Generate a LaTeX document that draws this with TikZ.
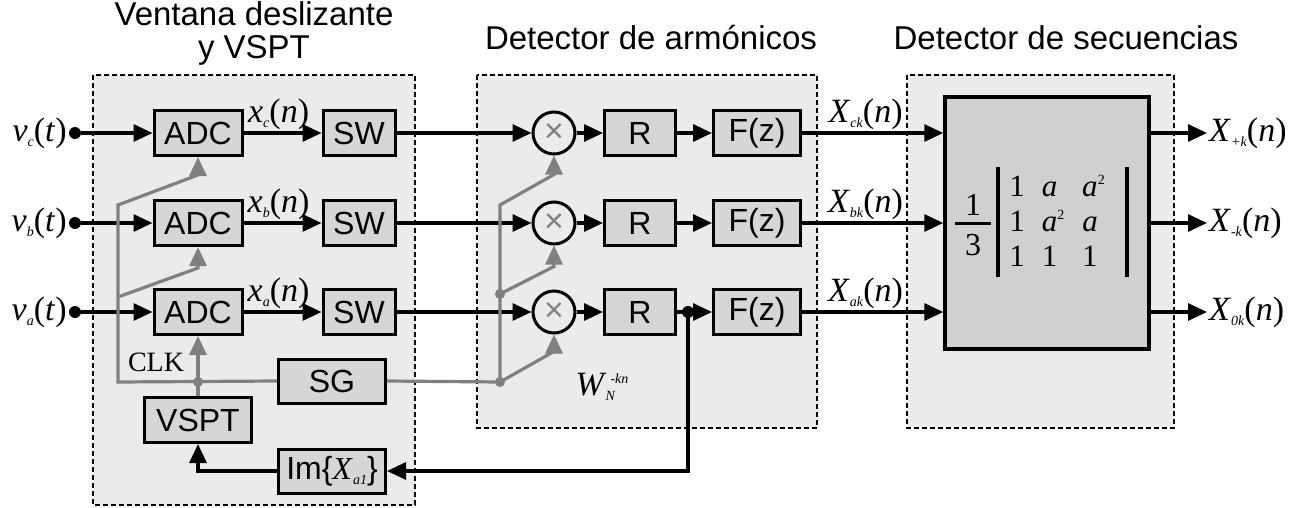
\documentclass[tikz,border=0pt]{standalone}
\usepackage{fontspec}
\setmainfont{Liberation Serif}
\setsansfont{Liberation Sans}
\usetikzlibrary{arrows.meta,calc}

\definecolor{panelgray}{RGB}{236,235,234}
\definecolor{boxgray}{RGB}{214,214,214}
\definecolor{matgray}{RGB}{208,208,208}
\definecolor{wiregray}{RGB}{128,128,128}

% small italic index below / above the line
\newcommand{\lowidx}[1]{\raisebox{-5pt}{\fontsize{14}{14}\selectfont\textit{#1}}}
\newcommand{\highidx}[1]{\raisebox{12pt}{\fontsize{14}{14}\selectfont #1}}

\begin{document}
\begin{tikzpicture}[x=1pt,y=-1pt,
    panel/.style={draw,dash pattern=on 5pt off 3pt,line width=2pt,fill=panelgray},
    blk/.style={draw,line width=3pt,fill=boxgray,inner sep=1pt,minimum height=45pt,
      font=\sffamily\fontsize{32}{32}\selectfont},
    mult/.style={draw,circle,line width=3pt,fill=panelgray,minimum size=42pt,inner sep=0pt},
    wire/.style={line width=3.2pt,-{Triangle[length=19pt,width=17pt]}},
    gwire/.style={wire,draw=wiregray},
    gline/.style={line width=3.2pt,draw=wiregray},
    dot/.style={circle,fill,inner sep=0pt,minimum size=12pt},
    gdot/.style={circle,fill=wiregray,inner sep=0pt,minimum size=10pt},
    lbl/.style={font=\fontsize{34}{34}\selectfont,inner sep=2pt},
    ttl/.style={font=\sffamily\fontsize{33}{33}\selectfont,align=center}]
  \fill[white] (0,0) rectangle (1306,508);
  \useasboundingbox (0,0) rectangle (1306,508);

  % panels
  \draw[panel] (93,75) rectangle (415,505);
  \draw[panel] (477,75) rectangle (817,428);
  \draw[panel] (907,75) rectangle (1174,428);
  \node[ttl] (t1) at (254,33) {Ventana deslizante\\y VSPT};
  \node[ttl] (t2) at (651,38) {Detector de armónicos};
  \node[ttl] (t3) at (1066,38) {Detector de secuencias};

  % sequence matrix
  \node[draw,line width=3.5pt,fill=matgray,minimum width=204pt,minimum height=252pt] (mat) at (1047,223) {};
  \node[font=\fontsize{32}{32}\selectfont] (num) at ($(mat.center)+(-74,-18)$) {1};
  \node[font=\fontsize{32}{32}\selectfont] (den) at ($(mat.center)+(-74,22)$) {3};
  \draw[line width=3pt] ($(mat.center)+(-92,0)$) -- ++(36,0);
  \draw[line width=3.5pt] ($(mat.center)+(-49,-56)$) -- ++(0,110);
  \draw[line width=3.5pt] ($(mat.center)+(80,-56)$) -- ++(0,110);
  \node[font=\fontsize{31}{35}\selectfont,inner sep=0pt] (coef) at ($(mat.center)+(10,1)$) {%
    \begin{tabular}{@{}l@{\hspace{17pt}}l@{\hspace{18pt}}l@{}}
      1 & \textit{a} & \textit{a}\highidx{2}\\
      1 & \textit{a}\highidx{2} & \textit{a}\\
      1 & 1 & 1
    \end{tabular}};

  % three phases
  \foreach \r/\y/\o in {c/133/+k,b/223/-k,a/312/0k} {
    \node[dot] (in\r) at (75,\y) {};
    \node[lbl,anchor=east] (v\r) at (in\r.west) {\textit{v}\lowidx{\r}(\textit{t})};
    \node[blk,minimum width=88pt] (adc\r) at (198,\y) {ADC};
    \node[blk,minimum width=72pt] (sw\r) at (359,\y) {SW};
    \node[mult] (mul\r) at (554,\y) {\textcolor{wiregray}{\sffamily\fontsize{34}{34}\selectfont ×}};
    \node[blk,minimum width=71pt] (r\r) at (640,\y) {R};
    \node[blk,minimum width=87pt] (f\r) at (757,\y) {F(z)};
    \coordinate (out\r) at (1207,\y);
    \node[lbl,anchor=west] (y\r) at (out\r) {\textit{X}\lowidx{\o}(\textit{n})};
    \draw[wire] (in\r) -- (adc\r);
    \draw[wire] (adc\r) -- node[lbl,above,pos=0.45] {\textit{x}\lowidx{\r}(\textit{n})} (sw\r);
    \draw[wire] (sw\r) -- (mul\r);
    \draw[wire] (mul\r) -- (r\r);
    \draw[wire] (r\r) -- (f\r);
    \draw[wire] (f\r) -- node[lbl,above,pos=0.45] {\textit{X}\lowidx{\r k}(\textit{n})} (mat.west |- f\r);
    \draw[wire] (mat.east |- f\r) -- (out\r);
  }

  % clock, signal generator and feedback
  \node[blk,minimum width=107pt,minimum height=44pt] (sg) at (332,381) {SG};
  \node[blk,minimum width=107pt] (vspt) at (198,420) {VSPT};
  \node[blk,minimum width=107pt,minimum height=44pt] (im) at (332,471)
    {Im\{{\rmfamily\textit{X}\lowidx{a1}}\}};
  \node[font=\fontsize{28}{28}\selectfont] (clk) at (156,362) {CLK};

  \coordinate (gl) at (118,382);
  \draw[gwire] (sg.west) -- (gl) -- (118,205) -- ($(adcc.south)+(0,18)$) -- (adcc.south);
  \draw[gwire] (118,297) -- ($(adcb.south)+(0,21)$) -- (adcb.south);
  \draw[gwire] (vspt.north) -- (adca.south);
  \node[gdot] at (vspt.north |- gl) {};

  \coordinate (sgj) at (500,382);
  \coordinate (wb) at (500,294);
  \draw[gline] (sg.east) -- (sgj);
  \draw[gwire] (sgj) -- (500,205) -- ($(mulc.south)+(0,19)$) -- (mulc.south);
  \draw[gwire] (wb) -- ($(mulb.south)+(0,21)$) -- (mulb.south);
  \draw[gwire] (sgj) -- ($(mula.south)+(0,17)$) -- (mula.south);
  \node[gdot] at (wb) {};
  \node[gdot] at (sgj) {};
  \node[lbl] (w) at (602,387) {\textit{W}\kern-1pt\lowidx{N}\kern-5pt\highidx{-\textit{kn}}};

  \coordinate (tap) at ($(ra.east)+(11,0)$);
  \draw[wire] (tap) |- (im.east);
  \draw[wire] (im.west) -| (vspt.south);
  \node[dot] at (tap) {};
\end{tikzpicture}
\end{document}
